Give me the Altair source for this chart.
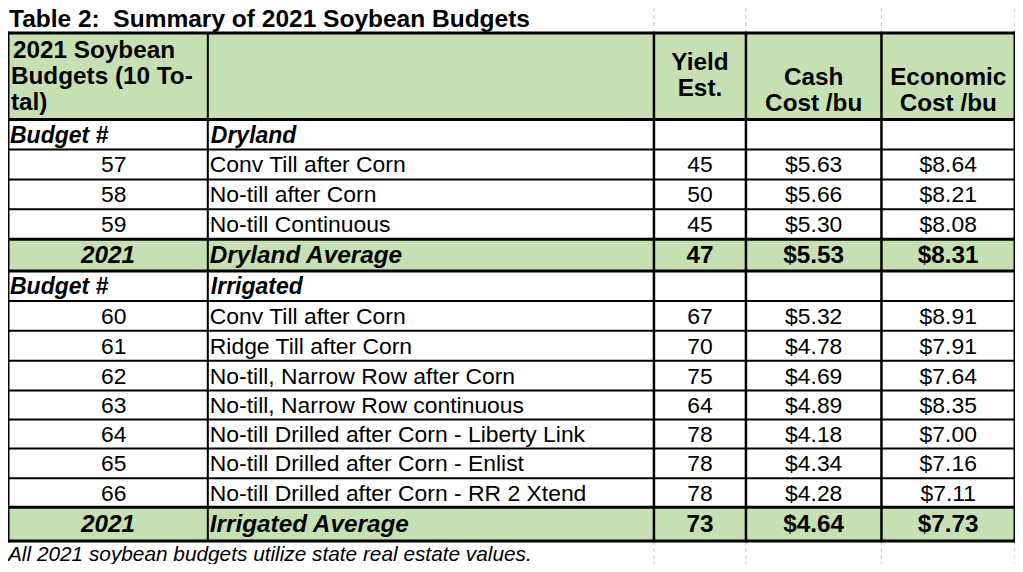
import altair as alt
import pandas as pd

# ---------------- data ----------------
title_text = "Table 2:\u00a0 Summary of 2021 Soybean Budgets"
header_col1 = ["2021 Soybean", "Budgets (10 To-", "tal)"]
header_yield = ["Yield", "Est."]
header_cash = ["Cash", "Cost /bu"]
header_econ = ["Economic", "Cost /bu"]

section_label = "Budget #"
dry_section = "Dryland"
dry_budgets = ["57", "58", "59"]
dry_names = ["Conv Till after Corn", "No-till after Corn", "No-till Continuous"]
dry_yield = [45, 50, 45]
dry_cash = [5.63, 5.66, 5.30]
dry_econ = [8.64, 8.21, 8.08]
dry_avg = ["2021", "Dryland Average", 47, 5.53, 8.31]

irr_section = "Irrigated"
irr_budgets = ["60", "61", "62", "63", "64", "65", "66"]
irr_names = [
    "Conv Till after Corn",
    "Ridge Till after Corn",
    "No-till, Narrow Row after Corn",
    "No-till, Narrow Row continuous",
    "No-till Drilled after Corn - Liberty Link",
    "No-till Drilled after Corn - Enlist",
    "No-till Drilled after Corn - RR 2 Xtend",
]
irr_yield = [67, 70, 75, 64, 78, 78, 78]
irr_cash = [5.32, 4.78, 4.69, 4.89, 4.18, 4.34, 4.28]
irr_econ = [8.91, 7.91, 7.64, 8.35, 7.00, 7.16, 7.11]
irr_avg = ["2021", "Irrigated Average", 73, 4.64, 7.73]

footnote = "All 2021 soybean budgets utilize state real estate values."

# ---------------- layout (style) ----------------
col_edges = [3, 205, 656, 749, 886, 1021]
row_edges = [33, 120, 150, 180, 210, 240, 272, 302, 332, 362, 392, 421, 450, 480, 509, 543]
thick_rows = {0, 1, 5, 6, 14, 15}
GREEN = "#C6E0B4"
FONT = "Liberation Sans"


def money(v):
    return f"${v:.2f}"


rows = [("header", None), ("section", dry_section)]
for i in range(len(dry_budgets)):
    rows.append(("data", (dry_budgets[i], dry_names[i], dry_yield[i], dry_cash[i], dry_econ[i])))
rows.append(("avg", dry_avg))
rows.append(("section", irr_section))
for i in range(len(irr_budgets)):
    rows.append(("data", (irr_budgets[i], irr_names[i], irr_yield[i], irr_cash[i], irr_econ[i])))
rows.append(("avg", irr_avg))

rects, lines, texts = [], [], []
ccent = [(col_edges[i] + col_edges[i + 1]) / 2 for i in range(5)]

for r, (kind, content) in enumerate(rows):
    y0, y1 = row_edges[r], row_edges[r + 1]
    yc = (y0 + y1) / 2 + 1
    if kind in ("header", "avg"):
        rects.append(dict(x=col_edges[0], x2=col_edges[-1], y=y0, y2=y1, fill=GREEN))
    if kind == "header":
        for k, t in enumerate(header_col1):
            texts.append(dict(x=col_edges[0] + 3 if k else col_edges[0] + 5, y=51 + 26 * k, label=t, style="hdr_l"))
        for k, t in enumerate(header_yield):
            texts.append(dict(x=ccent[2], y=63 + 26 * k, label=t, style="hdr_c"))
        for k, t in enumerate(header_cash):
            texts.append(dict(x=ccent[3], y=78 + 26 * k, label=t, style="hdr_c"))
        for k, t in enumerate(header_econ):
            texts.append(dict(x=ccent[4], y=78 + 26 * k, label=t, style="hdr_c"))
    elif kind == "section":
        texts.append(dict(x=col_edges[0] + 2, y=yc, label=section_label, style="sec"))
        texts.append(dict(x=col_edges[1] + 3, y=yc, label=content, style="sec"))
    elif kind == "data":
        b, n, yv, c, e = content
        texts.append(dict(x=ccent[0] + 6, y=yc, label=b, style="body_c"))
        texts.append(dict(x=col_edges[1] + 2, y=yc, label=n, style="body_l"))
        texts.append(dict(x=ccent[2], y=yc, label=str(yv), style="body_c"))
        texts.append(dict(x=ccent[3], y=yc, label=money(c), style="body_c"))
        texts.append(dict(x=ccent[4], y=yc, label=money(e), style="body_c"))
    elif kind == "avg":
        yr, n, yv, c, e = content
        texts.append(dict(x=ccent[0], y=yc, label=yr, style="avg_bi_c"))
        texts.append(dict(x=col_edges[1] + 2, y=yc, label=n, style="avg_bi_l"))
        texts.append(dict(x=ccent[2], y=yc, label=str(yv), style="avg_b_c"))
        texts.append(dict(x=ccent[3], y=yc, label=money(c), style="avg_b_c"))
        texts.append(dict(x=ccent[4], y=yc, label=money(e), style="avg_b_c"))

texts.append(dict(x=4, y=20.5, label=title_text, style="title"))
texts.append(dict(x=3, y=557, label=footnote, style="foot"))

for r, ye in enumerate(row_edges):
    lines.append(dict(x=col_edges[0], x2=col_edges[-1], y=ye, y2=ye, w=3 if r in thick_rows else 2))
for c, xe in enumerate(col_edges):
    w = 3 if c in (0, len(col_edges) - 1) else (2 if c == 1 else 2.5)
    lines.append(dict(x=xe, x2=xe, y=row_edges[0], y2=row_edges[-1], w=w))

grid = []
for xe in col_edges[2:]:
    grid.append(dict(x=xe, x2=xe, y=8, y2=row_edges[0]))
    grid.append(dict(x=xe, x2=xe, y=row_edges[-1], y2=566))

rect_df = pd.DataFrame(rects)
line_df = pd.DataFrame(lines)
text_df = pd.DataFrame(texts)
grid_df = pd.DataFrame(grid)

W, H = 1007, 556
xs = alt.Scale(domain=[3, 1021], range=[0, W])
ys = alt.Scale(domain=[8, 566], range=[0, H])

grid_layer = alt.Chart(grid_df).mark_rule(color="#c4c4c4", strokeDash=[4, 3], strokeWidth=1).encode(
    x=alt.X("x:Q", scale=xs, axis=None), x2="x2:Q",
    y=alt.Y("y:Q", scale=ys, axis=None), y2="y2:Q",
)
rect_layer = alt.Chart(rect_df).mark_rect().encode(
    x=alt.X("x:Q", scale=xs, axis=None), x2="x2:Q",
    y=alt.Y("y:Q", scale=ys, axis=None), y2="y2:Q",
    color=alt.Color("fill:N", scale=None),
)
line_layer = alt.Chart(line_df).mark_rule(color="black", strokeCap="square").encode(
    x=alt.X("x:Q", scale=xs, axis=None), x2="x2:Q",
    y=alt.Y("y:Q", scale=ys, axis=None), y2="y2:Q",
    strokeWidth=alt.StrokeWidth("w:Q", scale=None),
)

styles = {
    "title": dict(fontWeight="bold", fontSize=24.5, align="left"),
    "hdr_l": dict(fontWeight="bold", fontSize=24.3, align="left"),
    "hdr_c": dict(fontWeight="bold", fontSize=24.3, align="center"),
    "sec": dict(fontWeight="bold", fontStyle="italic", fontSize=23, align="left"),
    "body_l": dict(fontSize=22.9, align="left"),
    "body_c": dict(fontSize=22.9, align="center"),
    "avg_bi_c": dict(fontWeight="bold", fontStyle="italic", fontSize=24.3, align="center"),
    "avg_bi_l": dict(fontWeight="bold", fontStyle="italic", fontSize=24.3, align="left"),
    "avg_b_c": dict(fontWeight="bold", fontSize=24.3, align="center"),
    "foot": dict(fontStyle="italic", fontSize=20.8, align="left"),
}

text_layers = []
for s, kw in styles.items():
    text_layers.append(
        alt.Chart(text_df)
        .transform_filter(alt.datum.style == s)
        .mark_text(font=FONT, color="black", baseline="middle", **kw)
        .encode(
            x=alt.X("x:Q", scale=xs, axis=None),
            y=alt.Y("y:Q", scale=ys, axis=None),
            text="label:N",
        )
    )

chart = (
    alt.layer(grid_layer, rect_layer, line_layer, *text_layers)
    .properties(width=W, height=H, padding=0, autosize=alt.AutoSizeParams(type="none"), background="white")
    .configure_view(stroke=None)
)

chart.save("out.html", embed_options={"renderer": "svg", "actions": False})
